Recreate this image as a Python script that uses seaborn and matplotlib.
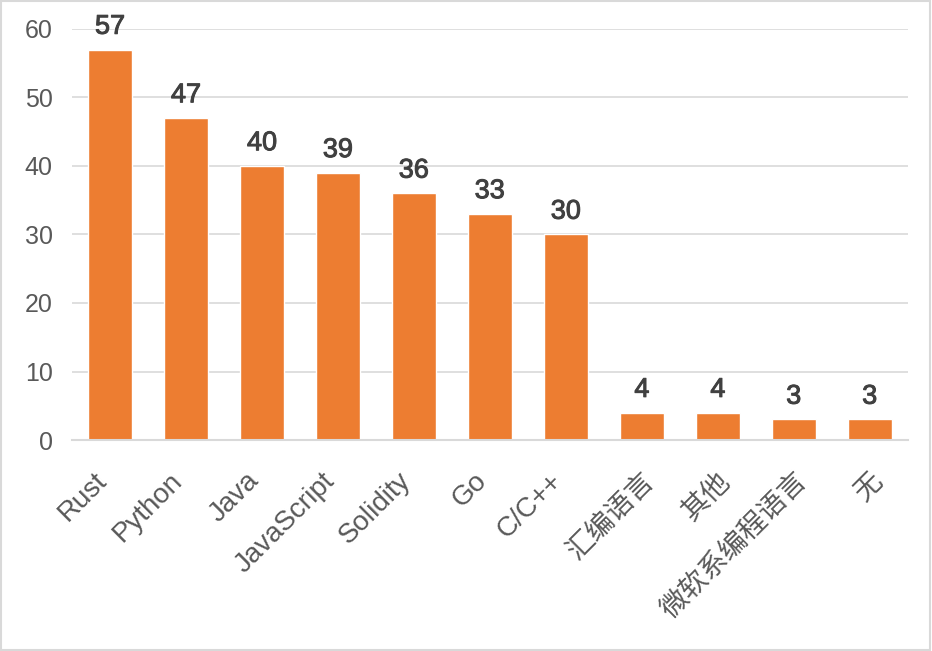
import matplotlib
matplotlib.use("Agg")
import matplotlib.pyplot as plt
import matplotlib.patheffects as pe
import seaborn as sns
import pandas as pd
from matplotlib.patches import Rectangle
import matplotlib.transforms as mtransforms

categories = ["Rust", "Python", "Java", "JavaScript", "Solidity", "Go", "C/C++",
              "汇编语言", "其他", "微软系编程语言", "无"]
values = [57, 47, 40, 39, 36, 33, 30, 4, 4, 3, 3]
yticks = [0, 10, 20, 30, 40, 50, 60]

sns.set_theme(style="white")
plt.rcParams['font.family'] = ['Liberation Sans', 'Noto Sans CJK SC', 'DejaVu Sans']

df = pd.DataFrame({"lang": categories, "count": values})

fig = plt.figure(figsize=(9.32, 6.51), dpi=100)
ax = fig.add_axes([0.0773, 0.3241, 0.8967, 0.6314])
sns.barplot(data=df, x="lang", y="count", color="#ED7D31", saturation=1,
            width=0.58, ax=ax)

ax.set_ylim(0, 60)
ax.set_xlim(-0.5, len(categories) - 0.5)
ax.set_yticks(yticks)
ax.yaxis.grid(True, color="#D9D9D9", linewidth=1.2)
ax.set_axisbelow(True)
for s in ["top", "right", "left"]:
    ax.spines[s].set_visible(False)
ax.spines["bottom"].set_color("#D9D9D9")
ax.spines["bottom"].set_linewidth(1.5)
ax.set_xlabel("")
ax.set_ylabel("")
ax.tick_params(axis="y", length=0, pad=14, labelsize=18, labelcolor="#595959")
ax.tick_params(axis="x", length=0, pad=20, labelsize=20, labelcolor="#595959")
for lab in ax.get_xticklabels():
    lab.set_rotation(45)
    lab.set_ha("right")
    lab.set_rotation_mode("anchor")
    dx = -12 if lab.get_text().isascii() else 0
    off = mtransforms.ScaledTranslation(dx / 72, 0, fig.dpi_scale_trans)
    lab.set_transform(lab.get_transform() + off)

for cont in ax.containers:
    texts = ax.bar_label(cont, labels=[str(v) for v in values], padding=7,
                         fontsize=19.5, color="#404040", clip_on=False)
    for t in texts:
        t.set_path_effects([pe.withStroke(linewidth=0.7, foreground="#404040")])

fig.patches.append(Rectangle((0.001, 0.001), 0.997, 0.997, transform=fig.transFigure,
                             fill=False, edgecolor="#D9D9D9", linewidth=1.5))

fig.savefig("out.png", dpi=100)
